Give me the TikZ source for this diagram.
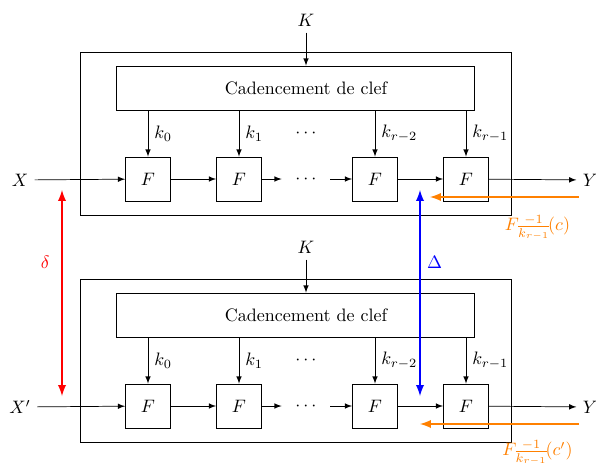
\documentclass[tikz,border=0pt]{standalone}
\usetikzlibrary{arrows}
\begin{document}
\begin{tikzpicture}[x=0.0195cm,y=-0.0195cm]
	\def\dx{91}
	\tikzset{fbox/.style={draw,rectangle,minimum width=0.88cm,minimum height=0.86cm,inner sep=0pt},
		clef/.style={draw,rectangle,minimum width=6.98cm,minimum height=0.86cm},
		dots/.style={inner xsep=7.5pt}}
	\useasboundingbox(0,0)rectangle(596,466);
	\foreach \b/\dy/\x in {a/0/X,b/227/X'}{
		\draw(80,52+\dy)rectangle(511,215+\dy);
		\path(295.5,88+\dy)node[clef](C\b){}(306,88+\dy)node(T\b){Cadencement de clef};
		\path(306,20+\dy)node(K\b){$K$};
		\path(148,179+\dy)node[fbox](F1\b){$F$}++(\dx,0)node[fbox](F2\b){$F$}++(67,0)node[dots](d\b){$\cdots$}++(69,0)node[fbox](F3\b){$F$}++(\dx,0)node[fbox](F4\b){$F$};
		\path(306,133+\dy)node(dk\b){$\cdots$};
		\path(20,180+\dy)node(in\b){$\x$}(590,180+\dy)node(out\b){$Y$};
		\draw[-latex](K\b)--(K\b|-C\b.north);
		\foreach \f/\k in {F1/k_0,F2/k_1,F3/k_{r-2},F4/k_{r-1}}
		\draw[-latex](\f\b|-C\b.south)--(\f\b.north)node[midway,right]{$\k$};
		\foreach \u/\v in {in/F1,F1/F2,F2/d,d/F3,F3/F4,F4/out}
		\draw[-latex](\u\b)--(\v\b);
	}
	% differences
	\coordinate(da)at(62,190);\coordinate(db)at(62,396);
	\coordinate(Da)at(420,190);\coordinate(Db)at(420,396);
	\draw[latex-latex,red,line width=1.1pt](da)--(db)node[pos=0.35,left=3pt]{$\delta$};
	\draw[latex-latex,blue,line width=1.1pt](Da)--(Db)node[pos=0.35,right]{$\Delta$};
	% inverse of last round
	\coordinate(ca)at(579,197);\coordinate(cb)at(430,197);
	\coordinate(cc)at(579,424);\coordinate(cd)at(420,424);
	\draw[-latex,orange,line width=1.1pt](ca)--(cb);
	\draw[-latex,orange,line width=1.1pt](cc)--(cd);
	\path(537.5,228)node[orange](La){$F\!\frac{-1}{k_{r-1}}\!(c)$}(537.5,453)node[orange](Lb){$F\!\frac{-1}{k_{r-1}}\!(c')$};
\end{tikzpicture}
\end{document}
